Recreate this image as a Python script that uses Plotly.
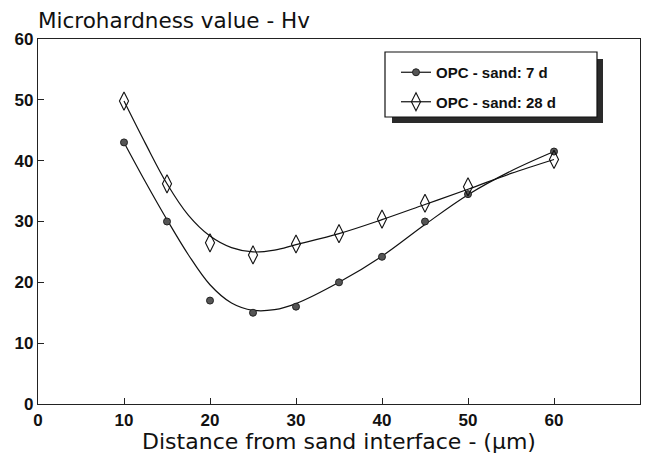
import plotly.graph_objects as go

# Measured points
x_pts = [10, 15, 20, 25, 30, 35, 40, 45, 50, 60]
hv_7d = [43.0, 30.0, 17.0, 15.0, 16.0, 20.0, 24.2, 30.0, 34.5, 41.5]
hv_28d = [49.8, 36.2, 26.5, 24.5, 26.3, 28.0, 30.4, 33.0, 35.7, 40.2]

# Fitted curves
x_fit = [10, 12.5, 15, 17.5, 20, 22.5, 25, 27.5, 30, 35, 40, 45, 50, 55, 60]
fit_7d = [43.0, 36.5, 30.3, 24.5, 19.6, 16.6, 15.4, 15.5, 16.5, 20.0, 24.3, 29.5, 34.4, 38.3, 41.5]
fit_28d = [49.8, 42.8, 36.2, 31.0, 27.6, 25.7, 25.0, 25.3, 26.2, 28.0, 30.3, 32.8, 35.3, 37.9, 40.2]

x_ticks = [0, 10, 20, 30, 40, 50, 60, 70]
y_ticks = [0, 10, 20, 30, 40, 50, 60]

series_names = ["OPC - sand: 7 d", "OPC - sand: 28 d"]

FONT = "Liberation Sans, Arial, sans-serif"
WIDE = "DejaVu Sans, Verdana, sans-serif"
LINE = dict(color="#111111", width=1.2)
M7 = dict(symbol="circle", size=7, color="#555555", line=dict(color="#222222", width=1))
M28 = dict(symbol="diamond-tall-open", size=13, color="#111111", line=dict(width=1.1))

fig = go.Figure()
fig.add_trace(go.Scatter(x=x_fit, y=fit_7d, mode="lines", line=dict(shape="spline", smoothing=1.0, **LINE),
                         showlegend=False, hoverinfo="skip"))
fig.add_trace(go.Scatter(x=x_fit, y=fit_28d, mode="lines", line=dict(shape="spline", smoothing=1.0, **LINE),
                         showlegend=False, hoverinfo="skip"))
fig.add_trace(go.Scatter(x=x_pts, y=hv_7d, mode="markers", name=series_names[0], marker=M7, showlegend=False))
fig.add_trace(go.Scatter(x=x_pts, y=hv_28d, mode="markers", name=series_names[1], marker=M28, showlegend=False))
# legend entries (line + marker sample)
fig.add_trace(go.Scatter(x=[None], y=[None], mode="lines+markers", name=series_names[0],
                         line=LINE, marker=M7, legendgroup="a"))
fig.add_trace(go.Scatter(x=[None], y=[None], mode="lines+markers", name=series_names[1],
                         line=LINE, marker=M28, legendgroup="b"))

L, R, T, B = 38, 8, 39, 51
W, H = 648, 455
pw, ph = W - L - R, H - T - B

def px(xp):
    return (xp - L) / pw

def py(yp):
    return (H - B - yp) / ph

# legend shadow + box
fig.add_shape(type="rect", xref="paper", yref="paper",
              x0=px(392), x1=px(603), y0=py(123), y1=py(59),
              fillcolor="#2a2a2a", line=dict(width=0), layer="above")
fig.add_shape(type="rect", xref="paper", yref="paper",
              x0=px(385), x1=px(597), y0=py(117), y1=py(52),
              fillcolor="white", line=dict(color="#111111", width=1.2), layer="above")

fig.update_layout(
    width=W, height=H,
    margin=dict(l=L, r=R, t=T, b=B),
    paper_bgcolor="white", plot_bgcolor="white",
    font=dict(family=FONT, color="#111111"),
    showlegend=True,
    legend=dict(x=px(396), y=py(56), xanchor="left", yanchor="top",
                bgcolor="rgba(0,0,0,0)", borderwidth=0,
                font=dict(size=15, family=FONT, weight="bold", color="#111111"),
                itemwidth=30, tracegroupgap=7, valign="middle"),
    annotations=[dict(text="Microhardness value - Hv", xref="paper", yref="paper",
                      x=px(36), y=py(21), xanchor="left", yanchor="middle", showarrow=False,
                      font=dict(size=21.5, family=WIDE, color="#111111"))],
)
fig.update_xaxes(range=[0, 70], tickvals=x_ticks, ticks="inside", ticklen=6, tickcolor="#222222",
                 showgrid=False, zeroline=False, showline=True, linecolor="#222222", linewidth=1.2,
                 mirror=True, tickfont=dict(size=17, family=FONT, weight="bold"),
                 title=dict(text="Distance from sand interface - (µm)", font=dict(size=22, family=WIDE), standoff=1))
fig.update_yaxes(range=[0, 60], tickvals=y_ticks, ticks="inside", ticklen=6, tickcolor="#222222",
                 showgrid=False, zeroline=False, showline=True, linecolor="#222222", linewidth=1.2,
                 mirror=True, tickfont=dict(size=17, family=FONT, weight="bold"))

fig.write_html("out.html")
